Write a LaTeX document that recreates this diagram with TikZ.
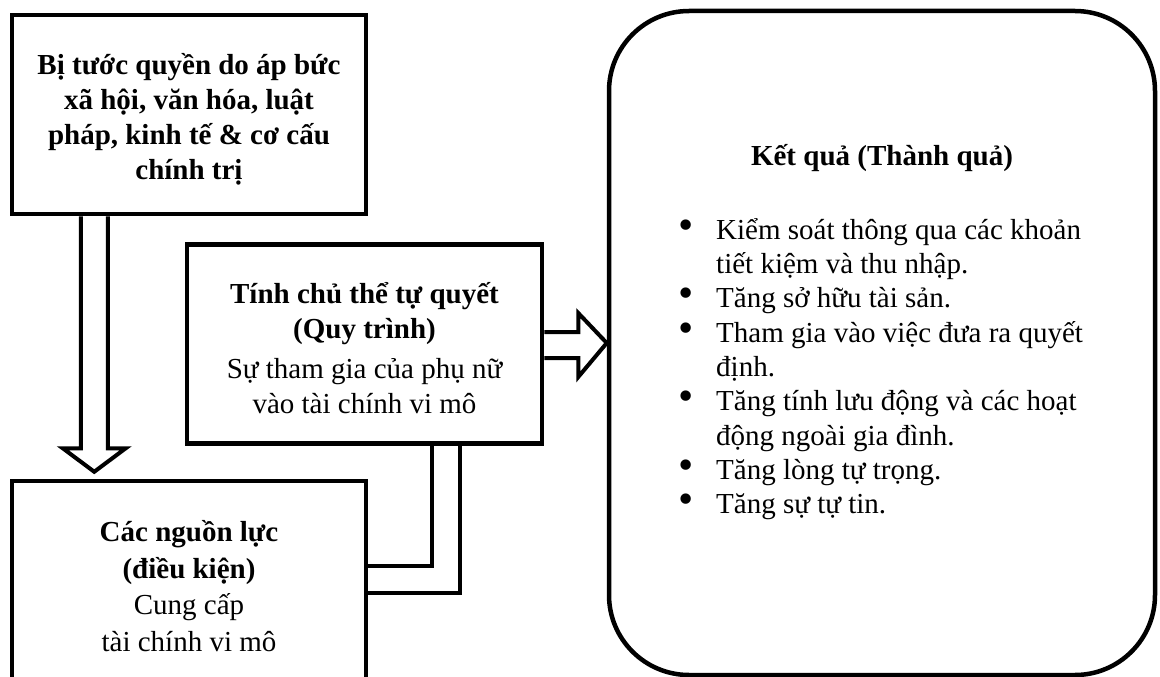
\documentclass[tikz,border=0pt]{standalone}
\usepackage{fontspec}
\usepackage{graphicx}
\setmainfont{Liberation Serif}
\usetikzlibrary{calc}
\newcommand\bdot{\smash{\scalebox{1.5}{•}}}
\tikzset{
  boxline/.style={draw=black, line width=4.5pt, line join=miter},
  sqbox/.style={boxline, rectangle, align=center, inner sep=0pt},
  boxtext/.style={align=center, inner sep=0pt},
  hollowarrow/.style={draw=black, line width=4pt, line join=miter, fill=white},
}
\begin{document}
\begin{tikzpicture}[x=1pt,y=-1pt]
\clip (0,0) rectangle (1160,677);
\fill[white] (0,0) rectangle (1160,677);
% boxes
\node[sqbox, minimum width=354pt, minimum height=199pt] (b1) at (189,114.5) {};
\node[boxtext, font=\fontsize{29}{35}\selectfont\bfseries] (b1t) at ($(b1.center)+(0,5)$)
  {Bị tước quyền do áp bức\\xã hội, văn hóa, luật\\pháp, kinh tế \& cơ cấu\\chính trị};
\node[sqbox, minimum width=355pt, minimum height=199pt] (b2) at (364.5,344) {};
\node[boxtext, font=\fontsize{29}{34.5}\selectfont] (b2t) at ($(b2.center)+(0,4)$)
  {\textbf{Tính chủ thể tự quyết}\\\textbf{(Quy trình)}\\[6pt]Sự tham gia của phụ nữ\\vào tài chính vi mô};
\node[sqbox, minimum width=354pt, minimum height=210pt, font=\fontsize{29}{36.5}\selectfont] (b3) at (189,586)
  {\textbf{Các nguồn lực}\\\textbf{(điều kiện)}\\Cung cấp\\tài chính vi mô};
\node[boxline, rectangle, rounded corners=80pt, minimum width=546pt, minimum height=664pt, inner sep=0pt] (kq) at (882,343) {};
\node[font=\fontsize{29}{32}\selectfont\bfseries] (kqt) at (882,158) {Kết quả (Thành quả)};
\node[anchor=north west, inner sep=0pt, font=\fontsize{29}{34.3}\selectfont] (list) at (678,215) {%
\begin{tabular}{@{}p{38pt}@{}l@{}}
\bdot& Kiểm soát thông qua các khoản\\
 & tiết kiệm và thu nhập.\\
\bdot& Tăng sở hữu tài sản.\\
\bdot& Tham gia vào việc đưa ra quyết\\
 & định.\\
\bdot& Tăng tính lưu động và các hoạt\\
 & động ngoài gia đình.\\
\bdot& Tăng lòng tự trọng.\\
\bdot& Tăng sự tự tin.
\end{tabular}};
% down hollow arrow b1 -> b3
\coordinate (d0) at ($(b1.south west)+(84.5,0)$);
\coordinate (dtip) at ($(d0 |- b3.north)+(0,-7)$);
\draw[hollowarrow] ($(d0)+(-13.5,0)$) -- ($(d0)+(-13.5,232)$) -- ($(d0)+(-31.5,232)$)
  -- (dtip) -- ($(d0)+(31.5,232)$) -- ($(d0)+(13.5,232)$) -- ($(d0)+(13.5,0)$);
% right hollow arrow b2 -> kq
\coordinate (r0) at ($(b2.east)+(0,1)$);
\draw[hollowarrow] ($(r0)+(0,-13)$) -- ($(r0)+(34,-13)$) -- ($(r0)+(34,-32)$)
  -- (kq.west) -- ($(r0)+(34,32)$) -- ($(r0)+(34,13)$) -- ($(r0)+(0,13)$);
% elbow double connector b2 -> b3
\draw[line width=4pt, line join=miter] ($(b2.south west)+(247,0)$) |- ($(b3.east)+(0,-20)$);
\draw[line width=4pt, line join=miter] ($(b2.south west)+(275,0)$) |- ($(b3.east)+(0,7)$);
\end{tikzpicture}
\end{document}
